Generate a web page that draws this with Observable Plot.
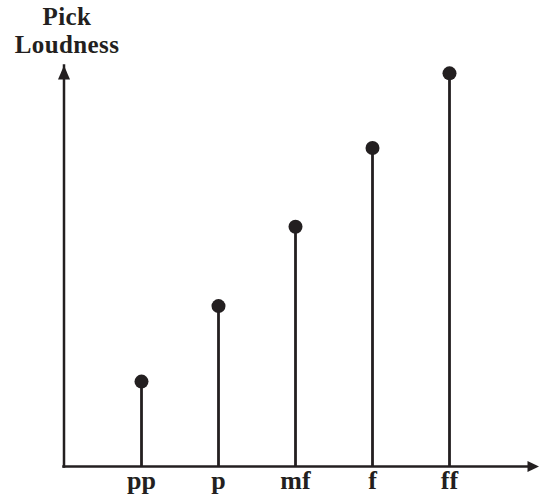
<!DOCTYPE html>
<html>
<head>
<meta charset="utf-8">
<script src="https://cdn.jsdelivr.net/npm/d3@7"></script>
<script src="https://cdn.jsdelivr.net/npm/@observablehq/plot@0.6"></script>
<style>
  html, body { margin: 0; padding: 0; background: #fff; }
  #wrap { position: relative; width: 539px; height: 499px; }
  .ttl {
    position: absolute; left: 0; width: 134px; height: 28px;
    text-align: center; font-family: "Liberation Serif", "Times New Roman", serif;
    font-weight: bold; font-size: 25px; line-height: 28px; letter-spacing: 0.4px; color: #231f20;
  }
  #t1 { top: 2.5px; }
  #t2 { top: 30.5px; }
  #chart svg { display: block; }
</style>
</head>
<body>
<div id="wrap">
  <div id="chart"></div>
  <div class="ttl" id="t1">Pick</div>
  <div class="ttl" id="t2">Loudness</div>
</div>
<script>
const categories = ["pp", "p", "mf", "f", "ff"];
const loudness = [1.08, 2.04, 3.05, 4.05, 5.0];

const ink = "#231f20";
const data = categories.map((c, i) => ({dynamic: c, value: loudness[i]}));

const arrowUp = {draw(ctx) { ctx.moveTo(0, 0); ctx.lineTo(6, 14); ctx.lineTo(-6, 14); ctx.closePath(); }};
const arrowRight = {draw(ctx) { ctx.moveTo(0, 0); ctx.lineTo(-11.5, -5.5); ctx.lineTo(-11.5, 5.5); ctx.closePath(); }};

const chart = Plot.plot({
  width: 539,
  height: 499,
  marginLeft: 63.5,
  marginRight: 12,
  marginTop: 65,
  marginBottom: 33,
  style: {background: "#fff", color: ink},
  x: {type: "point", domain: categories, padding: 1},
  y: {domain: [0, 5.1], axis: null},
  marks: [
    Plot.frame({anchor: "left", stroke: ink, strokeWidth: 2.5, strokeLinecap: "square"}),
    Plot.ruleY([0], {stroke: ink, strokeWidth: 2.5, strokeLinecap: "square"}),
    Plot.dot([0], {frameAnchor: "top-left", symbol: arrowUp, fill: ink, stroke: "none"}),
    Plot.dot([0], {frameAnchor: "bottom-right", symbol: arrowRight, fill: ink, stroke: "none", dx: 11.5}),
    Plot.ruleX(data, {x: "dynamic", y: "value", stroke: ink, strokeWidth: 2.8}),
    Plot.dot(data, {x: "dynamic", y: "value", r: 7, fill: ink, stroke: "none"}),
    Plot.axisX({
      tickSize: 0, tickPadding: 4.5, label: null,
      fontSize: 26, fontFamily: "Liberation Serif, Times New Roman, serif",
      fontWeight: "bold", fill: ink
    })
  ]
});
document.getElementById("chart").appendChild(chart);
</script>
</body>
</html>
